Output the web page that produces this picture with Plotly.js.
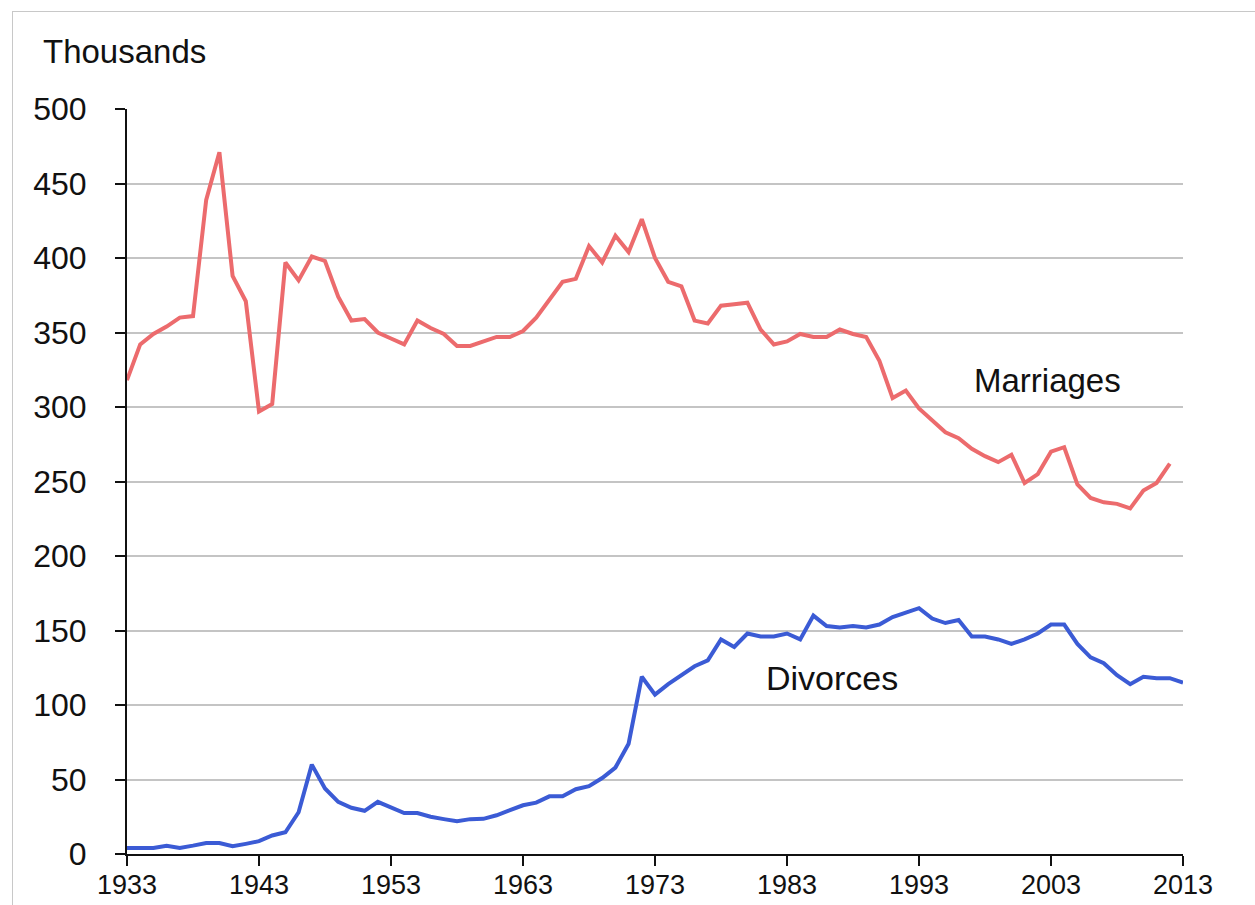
<!DOCTYPE html>
<html>
<head>
<meta charset="utf-8">
<script src="https://cdn.plot.ly/plotly-3.0.1.min.js"></script>
<style>
  html, body { margin: 0; padding: 0; background: #ffffff; overflow: hidden; }
  #frame { position: absolute; left: 12px; top: 11px; width: 1400px; height: 1000px; border: 1px solid #c8c8c8; }
  #chart { position: absolute; left: 0; top: 0; width: 1255px; height: 905px; }
</style>
</head>
<body>
<div id="frame"></div>
<div id="chart"></div>
<script>
const marriageYears = [];
for (let y = 1933; y <= 2012; y++) marriageYears.push(y);
const divorceYears = [];
for (let y = 1933; y <= 2013; y++) divorceYears.push(y);

const marriages = [
  318, 342, 349, 354, 360, 361, 439, 471, 388, 371,
  297, 302, 397, 385, 401, 398, 374, 358, 359, 350,
  346, 342, 358, 353, 349, 341, 341, 344, 347, 347,
  351, 360, 372, 384, 386, 408, 397, 415, 404, 426,
  400, 384, 381, 358, 356, 368, 369, 370, 352, 342,
  344, 349, 347, 347, 352, 349, 347, 331, 306, 311,
  299, 291, 283, 279, 272, 267, 263, 268, 249, 255,
  270, 273, 248, 239, 236, 235, 232, 244, 249, 262
];

const divorces = [
  4, 4, 4, 5.6, 4, 5.6, 7.4, 7.4, 5.2, 6.8,
  8.6, 12.4, 14.6, 28, 60, 44, 35, 31, 29, 35,
  31, 27.5, 27.5, 25, 23.4, 22, 23.4, 23.6, 26, 29.3,
  32.7, 34.5, 38.7, 38.7, 43.5, 45.5, 51, 58, 74, 119,
  107, 114, 120, 126, 130, 144, 139, 148, 146, 146,
  148, 144, 160, 153, 152, 153, 152, 154, 159, 162,
  165, 158, 155, 157, 146, 146, 144, 141, 144, 148,
  154, 154, 141, 132, 128, 120, 114, 119, 118, 118,
  115
];

const xTicks = [1933, 1943, 1953, 1963, 1973, 1983, 1993, 2003, 2013];
const yTicks = [0, 50, 100, 150, 200, 250, 300, 350, 400, 450, 500];

const FONT = 'Liberation Sans, Arial, sans-serif';

const traces = [
  { x: marriageYears, y: marriages, type: 'scatter', mode: 'lines', name: 'Marriages',
    line: { color: '#EC6B6D', width: 4 }, hoverinfo: 'x+y' },
  { x: divorceYears, y: divorces, type: 'scatter', mode: 'lines', name: 'Divorces',
    line: { color: '#3B5BD5', width: 4 }, hoverinfo: 'x+y' }
];

const layout = {
  width: 1255, height: 905,
  paper_bgcolor: 'rgba(0,0,0,0)',
  plot_bgcolor: 'rgba(0,0,0,0)',
  showlegend: false,
  margin: { l: 127, r: 72, t: 109, b: 51, pad: 0 },
  font: { family: FONT, color: '#111111' },
  xaxis: {
    range: [1933, 2013], tickvals: xTicks, ticktext: xTicks.map(String),
    showgrid: false, zeroline: false,
    showline: true, linecolor: '#111111', linewidth: 2,
    ticks: 'outside', ticklen: 10, tickwidth: 2, tickcolor: '#111111',
    tickfont: { family: FONT, size: 27, color: '#111111' },
    ticklabelstandoff: -4
  },
  yaxis: {
    range: [0, 500], tickvals: yTicks, ticktext: yTicks.map(String),
    showgrid: true, gridcolor: '#c4c4c4', gridwidth: 2,
    zeroline: false,
    showline: true, linecolor: '#111111', linewidth: 2,
    ticks: 'outside', ticklen: 10, tickwidth: 2, tickcolor: '#111111',
    tickfont: { family: FONT, size: 32, color: '#111111' },
    ticklabelstandoff: 22
  },
  annotations: [
    { text: 'Thousands', xref: 'paper', yref: 'paper', x: -0.081, y: 1.077,
      xanchor: 'left', yanchor: 'middle', showarrow: false,
      font: { family: FONT, size: 33, color: '#111111' } },
    { text: 'Marriages', xref: 'x', yref: 'y', x: 2002.7, y: 318,
      xanchor: 'center', yanchor: 'middle', showarrow: false,
      font: { family: FONT, size: 33, color: '#111111' } },
    { text: 'Divorces', xref: 'x', yref: 'y', x: 1986.4, y: 118,
      xanchor: 'center', yanchor: 'middle', showarrow: false,
      font: { family: FONT, size: 34, color: '#111111' } }
  ]
};

Plotly.newPlot('chart', traces, layout, { displayModeBar: false, staticPlot: true });
</script>
</body>
</html>
